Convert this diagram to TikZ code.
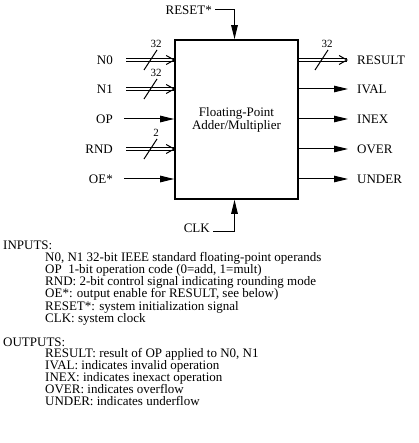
\documentclass[tikz,border=0pt]{standalone}
\usepackage{fontspec}
\setmainfont{Liberation Serif}
\usepackage{tikz}
\usetikzlibrary{arrows.meta}

\begin{document}
\begin{tikzpicture}[x=1pt,y=-1pt,
  lbl/.style={font=\fontsize{13}{13}\selectfont,inner sep=0pt},
  txt/.style={font=\fontsize{13}{12}\selectfont,inner sep=0pt},
  wid/.style={font=\fontsize{11}{11}\selectfont,inner sep=0pt},
  sig/.style={line width=1pt,-{Triangle[length=14pt,width=6.5pt]}},
  bus/.style={double,line width=0.9pt,double distance=1.3pt},
  chev/.style={line width=1pt}]
 \useasboundingbox (0,0) rectangle (418,443);
 % the unit
 \node[draw,line width=1.6pt,minimum width=123pt,minimum height=159pt,
  align=center,font=\fontsize{13}{13}\selectfont] (fpu) at (236.5,119.5)
  {Floating-Point\\Adder/Multiplier};
 % inputs
 \foreach \id/\name/\y in {n0/N0/60,n1/N1/89,op/OP/119,rnd/RND/149,oe/OE*/179}
  \node[lbl,anchor=east] (in\id) at (113,\y) {\name};
 \foreach \id in {op,oe}
  \draw[sig] ([xshift=11pt]in\id.east) -- (fpu.west |- in\id);
 \foreach \id/\w in {n0/32,n1/32,rnd/2} {
  \draw[bus] ([xshift=13pt]in\id.east) -- (fpu.west |- in\id);
  \draw[chev] (fpu.west |- in\id) ++(-8,-4.5) -- (fpu.west |- in\id) -- ++(-8,4.5);
  \draw[chev] ([xshift=144pt-113pt,yshift=-10pt]in\id.east) -- ++(13,-20)
   node[wid,anchor=south,xshift=-1pt,yshift=2pt] {\w};}
 % outputs
 \foreach \id/\name/\y in {result/RESULT/60,ival/IVAL/89,inex/INEX/119,
   over/OVER/149,under/UNDER/179}
  \node[lbl,anchor=west] (out\id) at (357,\y) {\name};
 \foreach \id in {ival,inex,over,under}
  \draw[sig] (fpu.east |- out\id) -- ([xshift=-9pt]out\id.west);
 \draw[bus] (fpu.east |- outresult) -- ([xshift=-10pt]outresult.west);
 \draw[chev] ([xshift=-10pt]outresult.west) ++(-8,-4.5)
  -- ([xshift=-10pt]outresult.west) -- ++(-8,4.5);
 \draw[chev] (315,70) -- (328,50) node[wid,anchor=south,xshift=-1pt,yshift=2pt] {32};
 % reset and clock
 \node[lbl,anchor=east] (reset) at (212,10) {RESET*};
 \draw[sig] ([xshift=3pt]reset.east) -| ([xshift=-2pt]fpu.north);
 \node[lbl,anchor=base east] (clk) at (210,232) {CLK};
 \draw[sig] ([xshift=3pt,yshift=1pt]clk.base east) -| ([xshift=-2pt]fpu.south);
 % signal list
 \node[txt,anchor=base west] (inhead) at (3,249) {INPUTS:};
 \foreach \t [count=\i] in {{N0, N1 32-bit IEEE standard floating-point operands},
   {OP\ \ 1-bit operation code (0=add, 1=mult)},
   {RND: 2-bit control signal indicating rounding mode},
   {OE*: output enable for RESULT, see below)},
   {RESET*: system initialization signal},
   {CLK: system clock}}
  \node[txt,anchor=base west] (inline\i) at (45,249+12.2*\i) {\t};
 \node[txt,anchor=base west] (outhead) at (3,346) {OUTPUTS:};
 \foreach \t [count=\i] in {{RESULT: result of OP applied to N0, N1},
   {IVAL: indicates invalid operation},
   {INEX: indicates inexact operation},
   {OVER: indicates overflow},
   {UNDER: indicates underflow}}
  \node[txt,anchor=base west] (outline\i) at (45,346+11.9*\i) {\t};
\end{tikzpicture}
\end{document}
